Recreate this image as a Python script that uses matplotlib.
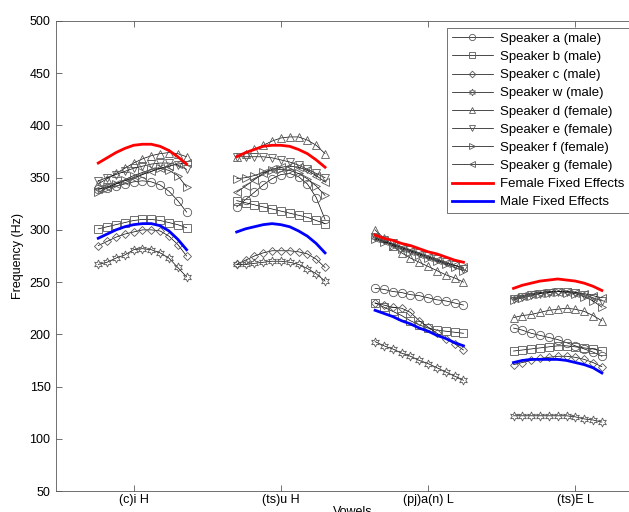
import numpy as np
import matplotlib
matplotlib.use("Agg")
import matplotlib.pyplot as plt
from matplotlib.lines import Line2D

# -------------------------------------------------------
# Data: F0 (Hz) per speaker, 11 samples in each of 4 vowels
# -------------------------------------------------------

vowels = ["(c)i H", "(ts)u H", "(pj)a(n) L", "(ts)E L"]
group_start = [0.76, 1.70, 2.64, 3.58]   # x of first sample in each vowel
n_samples = 11
sample_step = 0.06

spk_a = [[339, 340, 342, 344, 346, 347, 346, 343, 337, 328, 317],
         [322, 329, 336, 343, 349, 353, 354, 351, 344, 331, 310],
         [244, 243, 241, 240, 238, 237, 235, 233, 232, 230, 228],
         [206, 204, 201, 199, 197, 195, 192, 189, 186, 183, 179]]
spk_b = [[301, 303, 305, 307, 309, 310, 310, 309, 307, 305, 302],
         [328, 326, 324, 322, 320, 318, 316, 314, 312, 309, 306],
         [230, 226, 222, 218, 213, 209, 206, 204, 203, 202, 201],
         [184, 185, 186, 187, 188, 189, 189, 188, 187, 186, 184]]
spk_c = [[285, 289, 293, 296, 298, 300, 300, 299, 294, 286, 275],
         [267, 271, 275, 278, 280, 280, 280, 279, 277, 272, 264],
         [230, 228, 226, 225, 221, 213, 207, 201, 196, 191, 185],
         [171, 173, 175, 177, 178, 179, 179, 178, 176, 173, 169]]
spk_w = [[267, 269, 273, 276, 281, 282, 281, 278, 273, 264, 255],
         [267, 267, 268, 269, 270, 270, 269, 267, 263, 258, 251],
         [193, 189, 186, 182, 179, 175, 172, 168, 164, 160, 156],
         [122, 122, 122, 122, 122, 122, 122, 121, 119, 118, 116]]
spk_d = [[344, 349, 354, 359, 364, 368, 371, 373, 374, 373, 370],
         [370, 373, 377, 381, 385, 388, 389, 389, 386, 381, 373],
         [300, 292, 285, 278, 273, 269, 265, 261, 257, 254, 250],
         [216, 218, 219, 221, 223, 224, 225, 224, 222, 218, 213]]
spk_e = [[347, 350, 353, 356, 359, 361, 363, 364, 364, 362, 358],
         [370, 370, 370, 370, 369, 367, 365, 362, 358, 354, 350],
         [293, 290, 287, 284, 281, 278, 275, 272, 269, 266, 263],
         [234, 236, 238, 239, 240, 241, 241, 240, 238, 235, 232]]
spk_f = [[336, 340, 344, 348, 352, 355, 358, 359, 357, 352, 341],
         [349, 350, 352, 355, 357, 358, 357, 354, 349, 342, 333],
         [291, 288, 285, 282, 279, 276, 273, 270, 267, 264, 261],
         [233, 235, 237, 239, 240, 241, 240, 239, 236, 232, 226]]
spk_g = [[339, 341, 344, 347, 350, 353, 356, 359, 361, 363, 364],
         [336, 342, 348, 354, 358, 360, 361, 360, 357, 352, 346],
         [292, 289, 286, 283, 280, 277, 274, 271, 268, 266, 264],
         [235, 237, 239, 240, 241, 241, 241, 240, 239, 237, 235]]

female_fe = [[364, 369, 374, 378, 381, 382, 382, 380, 376, 370, 363],
             [370, 374, 377, 380, 381, 381, 380, 377, 373, 367, 360],
             [295, 292, 290, 287, 285, 282, 279, 277, 274, 271, 269],
             [244, 247, 249, 251, 252, 253, 252, 251, 249, 246, 242]]
male_fe = [[292, 296, 300, 303, 305, 306, 306, 304, 299, 291, 281],
           [298, 301, 303, 305, 306, 305, 303, 299, 294, 287, 278],
           [223, 220, 217, 213, 210, 206, 203, 199, 196, 192, 189],
           [173, 175, 176, 176, 176, 176, 175, 173, 171, 168, 163]]

speakers = [
    ("Speaker a (male)", spk_a, "o"),
    ("Speaker b (male)", spk_b, "s"),
    ("Speaker c (male)", spk_c, "D"),
    ("Speaker w (male)", spk_w, (6, 1, 0)),
    ("Speaker d (female)", spk_d, "^"),
    ("Speaker e (female)", spk_e, "v"),
    ("Speaker f (female)", spk_f, ">"),
    ("Speaker g (female)", spk_g, "<"),
]

# -------------------------------------------------------
# Plot
# -------------------------------------------------------

plt.rcParams["font.family"] = ["Liberation Sans", "DejaVu Sans"]
plt.rcParams["font.size"] = 9

fig = plt.figure(figsize=(6.29, 5.12), dpi=100)
# axes run past the right edge, as in the cropped original
ax = fig.add_axes([56 / 629, 21 / 512, 593 / 629, 470 / 512])

marker_size = {"o": 6, "s": 5.5, "D": 4.5, "^": 6, "v": 6, ">": 6, "<": 6}

handles = []
for label, values, marker in speakers:
    ms = marker_size.get(marker, 6.5) if isinstance(marker, str) else 6.5
    for g in range(len(vowels)):
        x = group_start[g] + sample_step * np.arange(n_samples)
        ax.plot(x, values[g], color="k", linewidth=0.5, marker=marker,
                markersize=ms, markerfacecolor="none",
                markeredgecolor="0.35", markeredgewidth=0.6)
    handles.append(Line2D([], [], color="k", linewidth=0.5, marker=marker,
                          markersize=ms * 0.75, markerfacecolor="none",
                          markeredgecolor="0.35", markeredgewidth=0.6,
                          label=label))

for label, values, color in [("Female Fixed Effects", female_fe, "red"),
                             ("Male Fixed Effects", male_fe, "blue")]:
    for g in range(len(vowels)):
        x = group_start[g] + sample_step * np.arange(n_samples)
        ax.plot(x, values[g], color=color, linewidth=2, zorder=5)
    handles.append(Line2D([], [], color=color, linewidth=2, label=label))

ax.set_xlim(0.473, 4.5)
ax.set_ylim(50, 500)
ax.set_xticks(range(1, len(vowels) + 1))
ax.set_xticklabels(vowels)
ax.set_yticks(np.arange(50, 501, 50))
ax.set_xlabel("Vowels", labelpad=0)
ax.set_ylabel("Frequency (Hz)", labelpad=4)

for side in ax.spines.values():
    side.set_color("0.35")
    side.set_linewidth(0.6)
ax.tick_params(direction="in", length=4, width=0.6, color="0.35",
               top=True, right=True)
ax.tick_params(axis="x", pad=2)
ax.tick_params(axis="y", pad=4)

leg = fig.legend(handles=handles, loc="upper right",
                 bbox_to_anchor=(628.5 / 629, 1 - 28 / 512),
                 frameon=True, fancybox=False, edgecolor="0.2",
                 prop={"size": 9.5},
                 handlelength=3.1, labelspacing=0.45, borderpad=0.35,
                 handletextpad=0.5, borderaxespad=0)
leg.get_frame().set_linewidth(0.6)

fig.savefig("out.png", dpi=100)
